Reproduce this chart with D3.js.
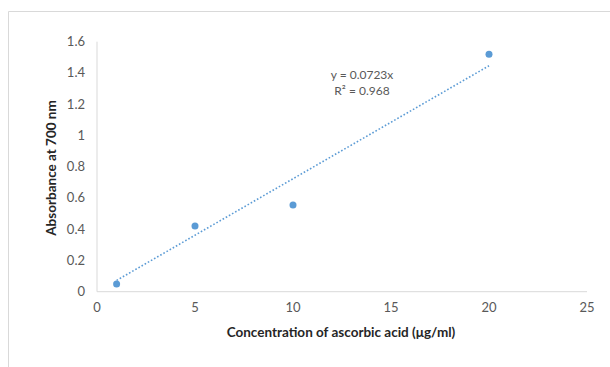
<!DOCTYPE html>
<html>
<head>
<meta charset="utf-8">
<script src="https://cdn.jsdelivr.net/npm/d3@7"></script>
<style>
  body { margin: 0; background: #fff; }
  svg { display: block; }
  text { font-family: Lato, "Open Sans", sans-serif; }
</style>
</head>
<body>
<div id="chart"></div>
<script>
// data
var concentration = [1, 5, 10, 20];
var absorbance = [0.05, 0.42, 0.555, 1.52];
var slope = 0.0723;
var rSquared = 0.968;
var xTicks = [0, 5, 10, 15, 20, 25];
var yTicks = [0, 0.2, 0.4, 0.6, 0.8, 1, 1.2, 1.4, 1.6];

var width = 610, height = 367;
var margin = { top: 41.7, left: 97, right: 23, bottom: 75.3 };
var blue = '#5b9bd5';

var svg = d3.select('#chart').append('svg')
  .attr('width', width)
  .attr('height', height);

// outer chart border (only left/top show in the crop)
svg.append('path')
  .attr('d', 'M8.5,' + height + 'V11.5H' + width)
  .attr('fill', 'none')
  .attr('stroke', '#d9d9d9');

var x = d3.scaleLinear().domain([0, 25]).range([margin.left, width - margin.right]);
var y = d3.scaleLinear().domain([0, 1.6]).range([height - margin.bottom, margin.top]);

// axis lines
svg.append('line')
  .attr('x1', x(0)).attr('x2', x(25))
  .attr('y1', y(0)).attr('y2', y(0))
  .attr('stroke', '#d9d9d9');
svg.append('line')
  .attr('x1', x(0)).attr('x2', x(0))
  .attr('y1', y(0)).attr('y2', y(1.6))
  .attr('stroke', '#d9d9d9');

// tick labels
svg.selectAll('.xt')
  .data(xTicks)
  .enter().append('text')
  .attr('x', function (d) { return x(d); })
  .attr('y', y(0) + 20)
  .attr('text-anchor', 'middle')
  .attr('font-size', 13)
  .attr('fill', '#595959')
  .text(function (d) { return d; });

svg.selectAll('.yt')
  .data(yTicks)
  .enter().append('text')
  .attr('x', 85)
  .attr('y', function (d) { return y(d) + 4.5; })
  .attr('text-anchor', 'end')
  .attr('font-size', 13)
  .attr('fill', '#595959')
  .text(function (d) { return d; });

// trendline through origin
svg.append('line')
  .attr('x1', x(concentration[0])).attr('y1', y(slope * concentration[0]))
  .attr('x2', x(concentration[concentration.length - 1]))
  .attr('y2', y(slope * concentration[concentration.length - 1]))
  .attr('stroke', blue)
  .attr('stroke-width', 1.6)
  .attr('stroke-dasharray', '1.6,2');

// points
svg.selectAll('.dot')
  .data(concentration)
  .enter().append('circle')
  .attr('cx', function (d) { return x(d); })
  .attr('cy', function (d, i) { return y(absorbance[i]); })
  .attr('r', 3.5)
  .attr('fill', blue);

// equation
svg.append('text')
  .attr('x', 362).attr('y', 79)
  .attr('text-anchor', 'middle')
  .attr('font-size', 12)
  .attr('fill', '#595959')
  .text('y = ' + slope + 'x');
svg.append('text')
  .attr('x', 362).attr('y', 95)
  .attr('text-anchor', 'middle')
  .attr('font-size', 12)
  .attr('fill', '#595959')
  .text('R² = ' + rSquared);

// axis titles
svg.append('text')
  .attr('x', 341).attr('y', 337)
  .attr('text-anchor', 'middle')
  .attr('font-size', 13.5)
  .attr('font-weight', 'bold')
  .attr('fill', '#262626')
  .text('Concentration of ascorbic acid (μg/ml)');

svg.append('text')
  .attr('transform', 'translate(56,168) rotate(-90)')
  .attr('text-anchor', 'middle')
  .attr('font-size', 13.5)
  .attr('font-weight', 'bold')
  .attr('fill', '#262626')
  .text('Absorbance at 700 nm');
</script>
</body>
</html>
